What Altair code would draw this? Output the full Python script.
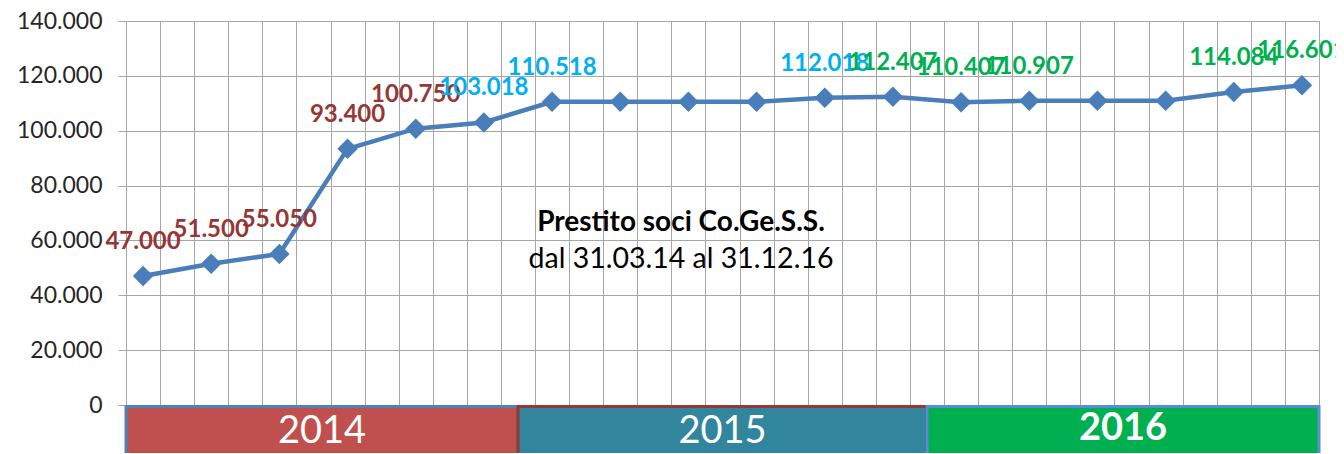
import altair as alt
import pandas as pd

# ---- data ----
values = [47000, 51500, 55050, 93400, 100750, 103018, 110518, 110518, 110518,
          110518, 112018, 112407, 110407, 110907, 110907, 110907, 114084, 116601]
label_group = ["r", "r", "r", "r", "r", "b", "b", None, None, None,
               "b", "g", "g", "g", None, None, "g", "g"]
point_year = ["2014"] * 6 + ["2015"] * 6 + ["2016"] * 6
years = ["2014", "2015", "2016"]
year_fill = ["#C0504D", "#31859C", "#00B050"]
year_stroke = ["#4F81BD", "#953735", "#558ED5"]
year_weight = ["normal", "normal", "bold"]
y_ticks = [0, 20000, 40000, 60000, 80000, 100000, 120000, 140000]
note_lines = ["Prestito soci Co.Ge.S.S.", "dal 31.03.14 al 31.12.16"]

W, H = 1193, 384
N_SLOTS = 2 * len(values) - 1  # 35 grid columns

df = pd.DataFrame({
    "idx": list(range(len(values))),
    "value": values,
    "grp": label_group,
    "year": point_year,
})

first_idx = [df[df.year == y].idx.min() for y in years]
last_idx = [df[df.year == y].idx.max() for y in years]
ydf = pd.DataFrame({
    "year": years,
    "x0": [max(0, 2 * f - 0.5) for f in first_idx],
    "x1": [min(N_SLOTS, 2 * l + 1.5) for l in last_idx],
    "weight": year_weight,
})

fmt_expr = "replace(format(datum.value, ','), ',', '.')"

xs = alt.Scale(domain=[0, N_SLOTS], nice=False, zero=False)
ys = alt.Scale(domain=[0, 140000], nice=False)

x_axis = alt.Axis(values=list(range(N_SLOTS + 1)), labels=False,
                  ticks=False, domain=False, title=None,
                  grid=True, gridColor="#A6A6A6", gridWidth=1)
y_axis = alt.Axis(values=y_ticks, labelExpr=fmt_expr, title=None,
                  domain=False, ticks=True, tickSize=8,
                  tickColor="#A6A6A6", grid=True,
                  gridColor="#A6A6A6", gridWidth=1,
                  labelFont="Lato", labelFontSize=23,
                  labelColor="#262626", labelPadding=16)

x_enc = alt.X("xpos:Q", scale=xs, axis=x_axis)
y_enc = alt.Y("value:Q", scale=ys, axis=y_axis)

base = alt.Chart(df).transform_calculate(xpos="datum.idx * 2 + 0.5")

line = base.mark_line(color="#4A7EBB", strokeWidth=4.5).encode(x=x_enc, y=y_enc)
pts = base.mark_point(shape="diamond", filled=True, size=420, opacity=1,
                      color="#4A7EBB").encode(x=x_enc, y=y_enc)

labels = base.transform_filter("datum.grp != null").transform_calculate(
    lab="replace(format(datum.value, ','), ',', '.')"
).mark_text(font="Lato", fontWeight="bold", fontSize=24, dy=-34,
            baseline="middle").encode(
    x=x_enc, y=y_enc, text="lab:N",
    color=alt.Color("grp:N", legend=None,
                    scale=alt.Scale(domain=["r", "b", "g"],
                                    range=["#953735", "#00B0F0", "#00B050"])))

boxes = alt.Chart(ydf).mark_rect(strokeWidth=3, clip=False).encode(
    x=alt.X("x0:Q", scale=xs, axis=x_axis), x2="x1:Q",
    y=alt.value(H + 1.5), y2=alt.value(H + 70),
    fill=alt.Fill("year:N", legend=None,
                  scale=alt.Scale(domain=years, range=year_fill)),
    stroke=alt.Stroke("year:N", legend=None,
                      scale=alt.Scale(domain=years, range=year_stroke)),
)
box_txt_n = alt.Chart(ydf).transform_filter("datum.weight == 'normal'").transform_calculate(
    xm="(datum.x0 + datum.x1) / 2").mark_text(
    font="Lato", fontSize=38, color="white", baseline="middle").encode(
    x=alt.X("xm:Q", scale=xs, axis=x_axis), y=alt.value(H + 27), text="year:N")
box_txt_b = alt.Chart(ydf).transform_filter("datum.weight == 'bold'").transform_calculate(
    xm="(datum.x0 + datum.x1) / 2").mark_text(
    font="Lato", fontSize=38, fontWeight="bold", color="white",
    baseline="middle").encode(
    x=alt.X("xm:Q", scale=xs, axis=x_axis), y=alt.value(H + 24), text="year:N")

note1 = alt.Chart(pd.DataFrame({"t": [note_lines[0]]})).mark_text(
    font="Lato", fontSize=28, fontWeight="bold", color="#000000",
    baseline="middle").encode(x=alt.value(555), y=alt.value(202), text="t:N")
note2 = alt.Chart(pd.DataFrame({"t": [note_lines[1]]})).mark_text(
    font="Lato", fontSize=28.5, color="#000000",
    baseline="middle").encode(x=alt.value(555), y=alt.value(238), text="t:N")

chart = alt.layer(line, pts, labels, note1, note2, boxes, box_txt_n, box_txt_b).properties(
    width=W, height=H,
    padding={"left": 118, "top": 13, "right": 17, "bottom": 48},
    autosize=alt.AutoSizeParams(type="none"),
).configure_view(stroke="#A9C0E6", strokeWidth=2).configure(background="white")

chart.save("out.html", embed_options={"renderer": "svg", "actions": False})
